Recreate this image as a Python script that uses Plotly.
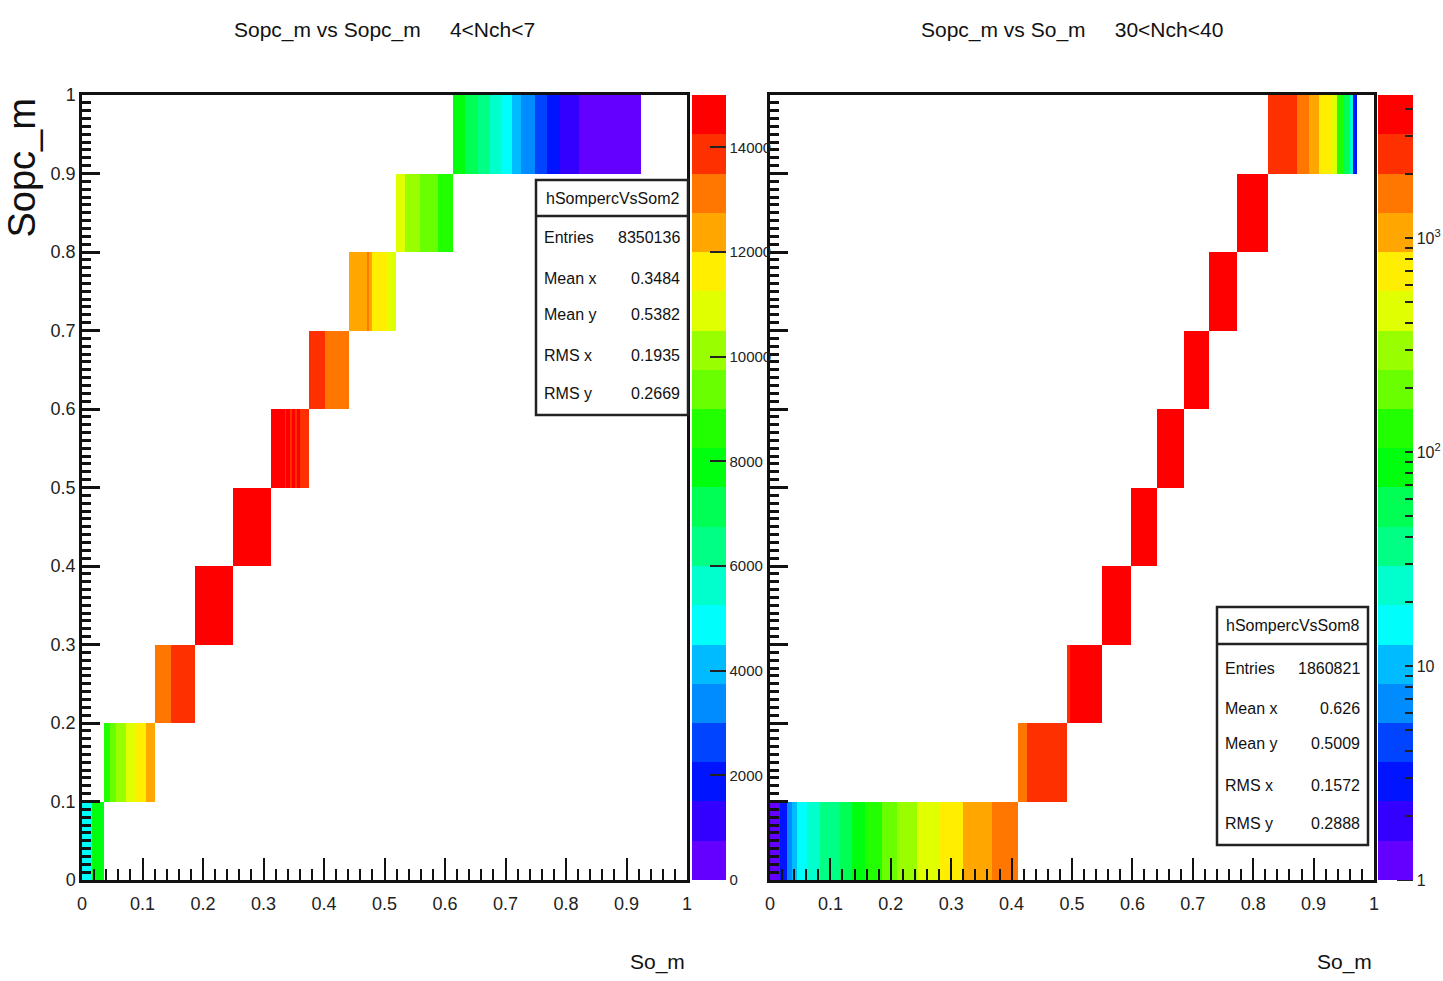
import colorsys
import math
import plotly.graph_objects as go

W, H = 1443, 981
FONT = "Liberation Sans, Arial, sans-serif"

# ---------------------------------------------------------------- data
# Sopc_m rows are 0.1 wide; each row is a run of So_m segments (edges) with counts.
y_edges = [0.0, 0.1, 0.2, 0.3, 0.4, 0.5, 0.6, 0.7, 0.8, 0.9, 1.0]

left_row_edges = [
    [0.000, 0.016, 0.037],
    [0.037, 0.046, 0.057, 0.072, 0.088, 0.105, 0.121],
    [0.121, 0.147, 0.187],
    [0.187, 0.250],
    [0.250, 0.312],
    [0.312, 0.3355, 0.338, 0.344, 0.347, 0.352, 0.355, 0.360, 0.375],
    [0.375, 0.402, 0.442],
    [0.442, 0.4706, 0.4749, 0.4788, 0.5063, 0.519],
    [0.519, 0.534, 0.559, 0.588, 0.613],
    [0.613, 0.633, 0.655, 0.675, 0.692, 0.710, 0.725, 0.749, 0.769, 0.790, 0.8215, 0.924],
]
left_row_counts = [
    [4900, 7900],
    [8700, 9500, 10300, 11000, 11600, 12500],
    [13200, 14000],
    [14600],
    [14600],
    [14600, 14000, 14600, 14000, 14600, 14000, 14600, 14000],
    [14000, 13200],
    [12500, 13200, 12500, 11600, 11000],
    [11000, 10300, 9500, 8700],
    [7900, 7200, 6500, 5600, 4900, 4200, 3400, 2600, 1900, 1100, 400],
]

right_row_edges = [
    [0.000, 0.017, 0.028, 0.036, 0.044, 0.061, 0.083, 0.116, 0.135, 0.157,
     0.185, 0.210, 0.243, 0.279, 0.320, 0.367, 0.411],
    [0.411, 0.425, 0.492],
    [0.492, 0.497, 0.549],
    [0.549, 0.598],
    [0.598, 0.641],
    [0.641, 0.685],
    [0.685, 0.727],
    [0.727, 0.773],
    [0.773, 0.825],
    [0.825, 0.872, 0.893, 0.909, 0.930, 0.939, 0.951, 0.960, 0.966, 0.972],
]
right_row_counts = [
    [1, 3, 7, 10, 16, 24, 36, 55, 83, 125, 190, 290, 440, 670, 1000, 1600],
    [1600, 2450],
    [2450, 3900],
    [3900],
    [3900],
    [3900],
    [3900],
    [3900],
    [3900],
    [2450, 1600, 1000, 670, 440, 125, 55, 24, 3],
]

left_title = "Sopc_m vs Sopc_m&nbsp;&nbsp;&nbsp;&nbsp;&nbsp;4&lt;Nch&lt;7"
right_title = "Sopc_m vs So_m&nbsp;&nbsp;&nbsp;&nbsp;&nbsp;30&lt;Nch&lt;40"
x_title = "So_m"
y_title = "Sopc_m"

left_stats_name = "hSompercVsSom2"
right_stats_name = "hSompercVsSom8"
stats_labels = ["Entries", "Mean x", "Mean y", "RMS x", "RMS y"]
left_stats_values = ["8350136", "0.3484", "0.5382", "0.1935", "0.2669"]
right_stats_values = ["1860821", "0.626", "0.5009", "0.1572", "0.2888"]

left_zmax = 15000
right_log_zmax = 3.668
left_cbar_ticks = [0, 2000, 4000, 6000, 8000, 10000, 12000, 14000]
right_cbar_decades = {0: "1", 1: "10", 2: "10<sup>2</sup>", 3: "10<sup>3</sup>"}


# ---------------------------------------------------------------- helpers
def px(x):
    """page x pixel -> paper fraction"""
    return x / W


def py(y):
    """page y pixel -> paper fraction"""
    return 1 - y / H


def rainbow_scale(n_levels=20, n_colors=50):
    """Stepped violet->red palette with n_levels contour bands."""
    scale = []
    for i in range(n_levels):
        p = int((i + 0.99) * n_colors / n_levels)
        hue = 280 - (p + 1) * 280 / n_colors
        r, g, b = colorsys.hls_to_rgb(max(hue, 0) / 360.0, 0.5, 1.0)
        c = "rgb(%d,%d,%d)" % (round(r * 255), round(g * 255), round(b * 255))
        scale.append([i / n_levels, c])
        scale.append([(i + 1) / n_levels, c])
    return scale


def build_grid(row_edges, row_counts, transform=lambda v: v):
    xs = sorted({round(e, 6) for row in row_edges for e in row})
    z = []
    for edges, counts in zip(row_edges, row_counts):
        line = []
        for a, b in zip(xs[:-1], xs[1:]):
            mid = 0.5 * (a + b)
            val = None
            for k, c in enumerate(counts):
                if edges[k] <= mid < edges[k + 1]:
                    val = transform(c)
                    break
            line.append(val)
        z.append(line)
    return xs, z


lx, lz = build_grid(left_row_edges, left_row_counts)
rx, rz = build_grid(right_row_edges, right_row_counts, lambda v: math.log10(v))

scale = rainbow_scale()

# plot-area geometry (page pixels)
L_X0, L_X1 = 82, 687
R_X0, R_X1 = 770, 1374
Y_TOP, Y_BOT = 95, 880
CB_R_X0, CB_R_W = 1378, 35
dom_y = [py(Y_BOT), py(Y_TOP)]

fig = go.Figure()

fig.add_trace(go.Heatmap(
    x=lx, y=y_edges, z=lz, zmin=0, zmax=left_zmax, colorscale=scale,
    xaxis="x", yaxis="y", hoverongaps=False,
    colorbar=dict(
        x=px(692), xanchor="left", y=(dom_y[0] + dom_y[1]) / 2, yanchor="middle",
        len=dom_y[1] - dom_y[0], thickness=34, outlinewidth=0, xpad=0, ypad=0,
        ticks="inside", ticklen=16, tickwidth=2, tickcolor="#222",
        tickvals=left_cbar_ticks, ticktext=[str(v) for v in left_cbar_ticks],
        tickfont=dict(family=FONT, size=15, color="#222"),
    ),
))

log_vals, log_text = [], []
for dec in range(0, 4):
    for m in range(1, 10):
        v = m * 10 ** dec
        if math.log10(v) > right_log_zmax:
            break
        log_vals.append(math.log10(v))
        log_text.append(right_cbar_decades[dec] if m == 1 else "")

fig.add_trace(go.Heatmap(
    x=rx, y=y_edges, z=rz, zmin=0, zmax=right_log_zmax, colorscale=scale,
    xaxis="x2", yaxis="y2", hoverongaps=False,
    colorbar=dict(
        x=px(CB_R_X0), xanchor="left", y=(dom_y[0] + dom_y[1]) / 2, yanchor="middle",
        len=dom_y[1] - dom_y[0], thickness=CB_R_W, outlinewidth=0, xpad=0, ypad=0,
        ticks="inside", ticklen=8, tickwidth=2, tickcolor="#222",
        tickvals=log_vals, ticktext=log_text,
        tickfont=dict(family=FONT, size=16, color="#222"),
    ),
))


def x_axis(domain, anchor):
    return dict(
        domain=domain, anchor=anchor, range=[0, 1], showgrid=False, zeroline=False,
        automargin=False,
        showline=True, linecolor="#111", linewidth=2.5, mirror=True,
        ticks="inside", ticklen=22, tickwidth=2, tickcolor="#111",
        tick0=0, dtick=0.1, ticklabelstandoff=6,
        minor=dict(ticks="inside", dtick=0.02, ticklen=11, tickwidth=2, tickcolor="#111"),
        tickfont=dict(family=FONT, size=18, color="#222"),
    )


def y_axis(anchor, labels=True):
    return dict(
        domain=dom_y, anchor=anchor, range=[0, 1], showgrid=False, zeroline=False,
        automargin=False,
        showline=True, linecolor="#111", linewidth=2.5, mirror=True,
        ticks="inside", ticklen=18, tickwidth=2.5, tickcolor="#111",
        tick0=0, dtick=0.1, showticklabels=labels,
        minor=dict(ticks="inside", dtick=0.01, ticklen=9, tickwidth=2.5, tickcolor="#111"),
        tickfont=dict(family=FONT, size=18, color="#222"),
    )


annotations = [
    dict(text=left_title, x=px(385), y=py(30), xref="paper", yref="paper",
         xanchor="center", yanchor="middle",
         showarrow=False, font=dict(family=FONT, size=21, color="#111")),
    dict(text=right_title, x=px(1072), y=py(30), xref="paper", yref="paper",
         xanchor="center", yanchor="middle",
         showarrow=False, font=dict(family=FONT, size=21, color="#111")),
    dict(text=y_title, x=px(22), y=py(97), xref="paper", yref="paper",
         xanchor="center", yanchor="top", textangle=-90,
         showarrow=False, font=dict(family=FONT, size=38, color="#111")),
    dict(text=x_title, x=px(L_X1), y=py(962), xref="paper", yref="paper",
         xanchor="right", yanchor="middle",
         showarrow=False, font=dict(family=FONT, size=21, color="#111")),
    dict(text=x_title, x=px(R_X1), y=py(962), xref="paper", yref="paper",
         xanchor="right", yanchor="middle",
         showarrow=False, font=dict(family=FONT, size=21, color="#111")),
]

shapes = []

# longer decade ticks on the logarithmic colour bar
cb_y0, cb_y1 = dom_y
for dec in right_cbar_decades:
    frac = dec / right_log_zmax
    yy = cb_y0 + frac * (cb_y1 - cb_y0)
    shapes.append(dict(type="line", xref="paper", yref="paper",
                       x0=px(CB_R_X0 + CB_R_W - 16), x1=px(CB_R_X0 + CB_R_W),
                       y0=yy, y1=yy, line=dict(color="#222", width=2)))


def stats_box(name, values, x0, x1, y0, y1, y_head, rows_y):
    shapes.append(dict(type="rect", xref="paper", yref="paper",
                       x0=px(x0), x1=px(x1), y0=py(y1), y1=py(y0),
                       fillcolor="white", line=dict(color="#222", width=2.5), layer="above"))
    shapes.append(dict(type="line", xref="paper", yref="paper",
                       x0=px(x0), x1=px(x1), y0=py(y_head), y1=py(y_head),
                       line=dict(color="#222", width=2.5), layer="above"))
    annotations.append(dict(text=name, x=px((x0 + x1) / 2), y=py((y0 + y_head) / 2),
                            xanchor="center", yanchor="middle",
                            xref="paper", yref="paper", showarrow=False,
                            font=dict(family=FONT, size=16, color="#111")))
    for lab, val, yy in zip(stats_labels, values, rows_y):
        annotations.append(dict(text=lab, x=px(x0 + 6), y=py(yy),
                                xanchor="left", yanchor="middle",
                                xref="paper", yref="paper", showarrow=False,
                                font=dict(family=FONT, size=16, color="#111")))
        annotations.append(dict(text=val, x=px(x1 - 6), y=py(yy),
                                xanchor="right", yanchor="middle",
                                xref="paper", yref="paper", showarrow=False,
                                font=dict(family=FONT, size=16, color="#111")))


stats_box(left_stats_name, left_stats_values, 536, 688, 180, 415, 216,
          [238, 278, 314, 355, 393])
stats_box(right_stats_name, right_stats_values, 1217, 1368, 607, 845, 644,
          [668, 708, 743, 785, 823])

fig.update_layout(
    width=W, height=H,
    margin=dict(l=0, r=0, t=0, b=0, pad=0, autoexpand=False),
    paper_bgcolor="white", plot_bgcolor="white", showlegend=False,
    xaxis=x_axis([px(L_X0), px(L_X1)], "y"),
    yaxis=y_axis("x"),
    xaxis2=x_axis([px(R_X0), px(R_X1)], "y2"),
    yaxis2=y_axis("x2", labels=False),
    annotations=annotations, shapes=shapes,
)

fig.write_html("out.html")
